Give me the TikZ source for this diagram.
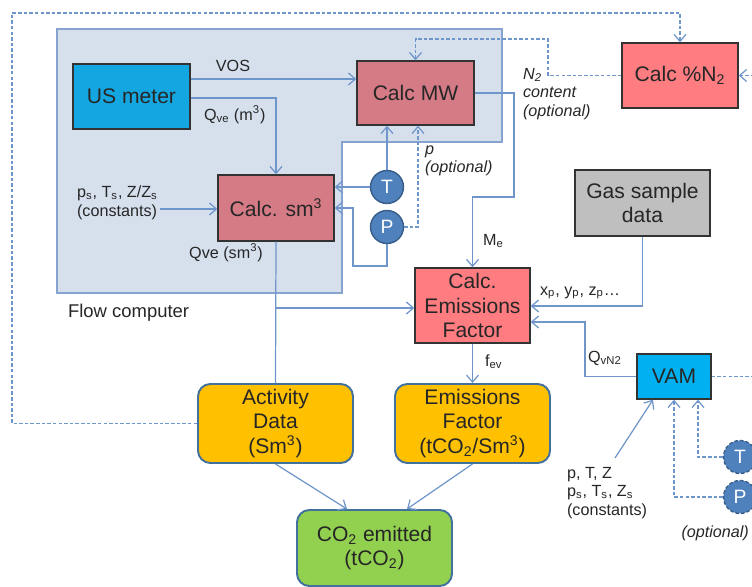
\documentclass[tikz,border=0pt]{standalone}
\usepackage{fontspec}
\setmainfont{Liberation Sans}
\usepackage{tikz}
\usetikzlibrary{arrows.meta,positioning}
\definecolor{fcfill}{HTML}{D6E0ED}
\definecolor{fcline}{HTML}{86A4CF}
\definecolor{flowblue}{HTML}{6F96CA}
\definecolor{usblue}{HTML}{14A6E0}
\definecolor{vamblue}{HTML}{00B0F0}
\definecolor{calcrose}{HTML}{D57B85}
\definecolor{calcsalmon}{HTML}{FF7C80}
\definecolor{gasgray}{HTML}{BFBFBF}
\definecolor{adorange}{HTML}{FFC000}
\definecolor{co2green}{HTML}{92D050}
\definecolor{rboxline}{HTML}{41719C}
\definecolor{sensfill}{HTML}{4F81BD}
\definecolor{sensline}{HTML}{385D8A}
\definecolor{boxtext}{HTML}{262626}

\begin{document}
\begin{tikzpicture}[
  x=0.02cm, y=-0.02cm,
  >={Straight Barb[length=1.4mm,width=2.4mm]},
  fcbox/.style={fill=fcfill, draw=fcline, line width=0.8pt},
  box/.style={draw=black!80, line width=0.8pt, text=boxtext, font=\fontsize{12}{14}\selectfont, align=center, inner sep=0pt},
  rbox/.style={box, draw=rboxline, line width=1.1pt, rounded corners=7pt},
  sensor/.style={circle, fill=sensfill, draw=sensline, line width=0.8pt, minimum size=0.66cm, inner sep=0pt, text=white, font=\fontsize{11}{13}\selectfont},
  optsensor/.style={sensor, dash pattern=on 2pt off 1.2pt},
  flow/.style={flowblue, line width=0.7pt},
  opt/.style={flow, dash pattern=on 2pt off 1.2pt},
  lab/.style={text=boxtext, font=\fontsize{9.2}{10.6}\selectfont, inner sep=1pt, align=left},
  optlab/.style={lab, font=\fontsize{9.2}{10.6}\selectfont\itshape}
]
\useasboundingbox (0,0) rectangle (752,587);

% Flow computer area
\draw[fcbox] (57,29) -- (502,29) -- (502,142) -- (342,142) -- (342,293) -- (57,293) -- cycle;
\node[lab, anchor=west, font=\fontsize{10.5}{12}\selectfont] (fclab) at (66,313) {Flow computer};

% Meters and calculation blocks
\node[box, fill=usblue, minimum width=2.34cm, minimum height=1.3cm] (usm) at (131.5,96.5) {US meter};
\node[box, fill=calcrose, minimum width=2.34cm, minimum height=1.28cm] (calcmw) at (415.5,93) {Calc MW};
\node[box, fill=calcrose, minimum width=2.32cm, minimum height=1.32cm] (calcsm) at (276,208) {Calc. sm\textsuperscript{3}};
\node[box, fill=calcsalmon, minimum width=2.32cm, minimum height=1.3cm] (calcn) at (680,75.5) {Calc \%N\textsubscript{2}};
\node[box, fill=calcsalmon, minimum width=2.3cm, minimum height=1.5cm] (calcef) at (472.5,305.5) {Calc.\\Emissions\\Factor};
\node[box, fill=gasgray, minimum width=2.7cm, minimum height=1.32cm] (gas) at (642.5,203) {Gas sample\\data};
\node[box, fill=vamblue, minimum width=1.48cm, minimum height=0.9cm] (vam) at (674,376.5) {VAM};

% Sensors
\node[sensor] (tsens) at (387,187) {T};
\node[sensor] (psens) at (387,227) {P};
\node[optsensor] (tvam) at (740,457) {T};
\node[optsensor] (pvam) at (740,497) {P};

% Results
\node[rbox, fill=adorange, minimum width=3.1cm, minimum height=1.58cm] (act) at (275.5,423.5) {Activity\\Data\\(Sm\textsuperscript{3})};
\node[rbox, fill=adorange, minimum width=3.1cm, minimum height=1.58cm] (efac) at (472.5,423.5) {Emissions\\Factor\\(tCO\textsubscript{2}/Sm\textsuperscript{3})};
\node[rbox, fill=co2green, minimum width=3.1cm, minimum height=1.52cm] (co2) at (374.5,548) {CO\textsubscript{2} emitted\\(tCO\textsubscript{2})};

% Labels
\node[lab] (voslab) at (233,66) {VOS};
\node[lab, anchor=west] (qvelab) at (202,115) {Q\textsubscript{ve} (m\textsuperscript{3})};
\node[lab, anchor=west] (constlab) at (75,203) {p\textsubscript{s}, T\textsubscript{s}, Z/Z\textsubscript{s}\\(constants)};
\node[lab] (qvslab) at (226,253) {Qve (sm\textsuperscript{3})};
\node[optlab, anchor=west] (plab) at (423,161) {p\\(optional)};
\node[optlab, anchor=west] (n2lab) at (521,94) {N\textsubscript{2}\\content\\(optional)};
\node[lab, anchor=west] (melab) at (481,241) {M\textsubscript{e}};
\node[lab, anchor=west] (xyzlab) at (538,293) {x\textsubscript{p}, y\textsubscript{p}, z\textsubscript{p}…};
\node[lab, anchor=west] (qvnlab) at (586,358) {Q\textsubscript{vN2}};
\node[lab, anchor=west] (fevlab) at (483,362) {f\textsubscript{ev}};
\node[lab, anchor=west] (vamlab) at (565,493) {p, T, Z\\p\textsubscript{s}, T\textsubscript{s}, Z\textsubscript{s}\\(constants)};
\node[optlab, anchor=east] (optlab2) at (751,533) {(optional)};

% Free ends
\coordinate (vamin) at (615,458);
\coordinate (vamout) at (760,376.5);
\coordinate (n2in) at (760,75.5);

% Flow computer connections
\draw[flow,->] (usm.east |- 0,79) -- (calcmw.west |- 0,79);
\draw[flow,->] (usm.east |- 0,98) -| (calcsm.north);
\draw[flow,->] (constlab.east |- 0,209) -- (calcsm.west |- 0,209);
\draw[flow,->] (tsens.north) -- (tsens.north |- calcmw.south);
\draw[flow,->] (tsens.west) -- (tsens.west -| calcsm.east);
\draw[flow,->] (psens.south) -- (psens.south |- 0,266) -| (353,208) -- (calcsm.east |- 0,208);
\draw[opt,->] (psens.east) -| (calcmw.south -| 418,0);
\draw[opt,->] (calcn.west) -| (548,39) -| (calcmw.north);

% Emissions factor inputs
\draw[flow,->] (calcmw.east) -| (514,197) -| (calcef.north);
\draw[flow] (calcsm.south) -- (act.north);
\draw[flow,->] (calcsm.south |- 0,308) -- (calcef.west |- 0,308);
\draw[flow,->] (gas.south) |- (calcef.east |- 0,306);
\draw[flow,->] (vam.west) -| (585,322) -- (calcef.east |- 0,322);
\draw[flow,->] (calcef.south) -- (efac.north);

% Results
\draw[flow,->] (act.south) -- (co2.north -| 347,0);
\draw[flow,->] (efac.south) -- (co2.north -| 407,0);
\draw[opt,->] (act.west) -| (12,13) -| (calcn.north);

% VAM inputs
\draw[flow,->] (vamin) -- (vam.south -| 653,0);
\draw[opt,->] (tvam.west) -| (vam.south -| 698,0);
\draw[opt,->] (pvam.west) -| (vam.south -| 674,0);
\draw[opt] (vam.east) -- (vamout);
\draw[opt,->] (n2in) -- (calcn.east);

\end{tikzpicture}
\end{document}
